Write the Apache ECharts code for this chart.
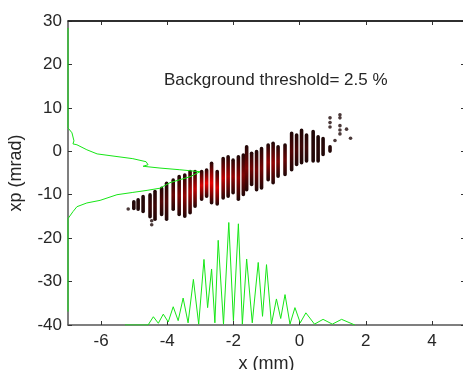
<!DOCTYPE html>
<html>
<head>
<meta charset="utf-8">
<script src="https://cdn.jsdelivr.net/npm/echarts@6/dist/echarts.min.js"></script>
<style>html,body{margin:0;padding:0;background:#fff}#c{width:463px;height:370px}</style>
</head>
<body>
<div id="c"></div>
<script>
// ---- data ----
const xRange = [-7, 5];
const yRange = [-40, 30];
const xTicks = [-6, -4, -2, 0, 2, 4];
const yTicks = [-40, -30, -20, -10, 0, 10, 20, 30];
const annotation = 'Background threshold= 2.5 %';

// scatter columns: x position, lowest y, highest y, red density (0..1)
const colX    = [-5.01, -4.88, -4.73, -4.52, -4.37, -4.17, -4.02, -3.82, -3.64, -3.47, -3.31, -3.16, -2.96, -2.81, -2.66, -2.49, -2.31, -2.16, -2.01, -1.85, -1.70, -1.60, -1.45, -1.30, -1.15, -0.95, -0.80, -0.65, -0.44, -0.24, -0.09, 0.06, 0.21, 0.41, 0.56, 0.71, 0.92];
const colYMin = [-13.2, -13.4, -13.9, -15.1, -15.7, -14.6, -15.7, -13.4, -14.6, -15.0, -14.2, -12.7, -11.1, -10.4, -11.9, -12.2, -10.8, -10.4, -9.6, -11.1, -10.0, -8.9, -7.7, -8.9, -8.5, -6.6, -7.3, -5.8, -5.4, -4.3, -3.1, -2.7, -2.3, -2.3, -2.3, -0.8, 0.0];
const colYMax = [-11.6, -11.1, -10.4, -10.0, -9.2, -8.5, -7.3, -6.6, -5.8, -5.4, -4.6, -4.6, -4.6, -4.3, -2.7, -4.6, -1.6, -1.2, -2.0, -1.2, -0.8, 1.1, -0.4, 0.0, 0.7, 1.5, 1.9, 1.1, 1.5, 4.2, 3.8, 4.9, 3.8, 4.6, 3.4, 3.0, 1.1];
const colRed  = [0, 0, 0, 0.1, 0.1, 0.2, 0.2, 0.3, 0.4, 0.5, 0.6, 0.7, 0.8, 0.9, 0.9, 0.8, 0.7, 0.6, 0.5, 0.5, 0.4, 0.4, 0.35, 0.35, 0.35, 0.5, 0.5, 0.4, 0.3, 0.2, 0.15, 0.1, 0.1, 0, 0, 0, 0];

// isolated dots
const dotX = [-5.18, -4.47, -4.47, 0.92, 0.92, 0.92, 1.22, 1.22, 1.22, 1.22, 1.22, 1.42, 1.07, 1.54];
const dotY = [-13.3, -16.0, -16.9, 7.7, 6.6, 5.6, 8.4, 7.7, 5.9, 4.9, 4.0, 5.1, 2.5, 3.0];

// projection on xp (left profile)
const vProfX = [-7, -7, -6.88, -6.82, -6.85, -6.73, -6.43, -6.12, -5.73, -5.04, -4.64, -4.58, -4.73, -4.22, -3.62, -3.31, -3.01, -3.01, -3.31, -3.62, -3.92, -4.22, -4.61, -5.04, -5.52, -6.03, -6.43, -6.73, -6.85, -7, -7];
const vProfY = [28.4, 5.4, 4.25, 2.4, 1.7, 1.5, 0.35, -0.6, -1.0, -1.7, -2.4, -3.1, -3.45, -3.86, -4.25, -4.48, -4.71, -5.17, -5.86, -6.55, -7.24, -8.5, -9.0, -9.47, -10.0, -11.3, -11.9, -12.76, -13.9, -15.5, -36.9];

// projection on x (bottom profile)
const hProfX = [-5.28, -4.58, -4.42, -4.27, -4.12, -3.97, -3.82, -3.67, -3.52, -3.37, -3.21, -3.05, -2.89, -2.78, -2.66, -2.56, -2.46, -2.30, -2.14, -2.00, -1.85, -1.73, -1.60, -1.43, -1.25, -1.12, -1.00, -0.85, -0.70, -0.57, -0.44, -0.29, -0.14, 0.02, 0.19, 0.45, 0.71, 0.99, 1.27, 1.67];
const hProfY = [-40, -40, -38.1, -39.6, -37.5, -39.3, -35.8, -39.0, -33.8, -39.5, -29.5, -39.8, -24.9, -36.0, -27.1, -39.5, -20.5, -39.8, -16.4, -39.0, -16.7, -39.8, -24.8, -39.5, -25.6, -38.0, -26.1, -39.8, -34.0, -38.5, -33.0, -39.8, -36.0, -39.5, -37.2, -39.8, -38.7, -39.8, -38.7, -40];

// ---- build ----
const chart = echarts.init(document.getElementById('c'), null, {renderer: 'canvas'});
const colData = colX.map((x, i) => [x, colYMin[i], colYMax[i], colRed[i]]);
const dotData = dotX.map((x, i) => [x, dotY[i]]);
const vProf = vProfX.map((x, i) => [x, vProfY[i]]);
const hProf = hProfX.map((x, i) => [x, hProfY[i]]);
const green = '#16e616';
const axisCol = '#333';
const txt = '#262626';
const font = 'Liberation Sans, Arial, sans-serif';

function darkRed(r) {
  const R = Math.round(40 + 215 * r), G = Math.round(8 * (1 - r)), B = Math.round(8 * (1 - r));
  return 'rgb(' + R + ',' + G + ',' + B + ')';
}
const hiddenAxis = (g) => ({type: 'value', gridIndex: g, min: 0, max: 1, show: false});

const option = {
  backgroundColor: '#fff',
  animation: false,
  grid: [
    {left: 68, top: 21, width: 397, height: 304, containLabel: false, outerBoundsMode: 'none'},
    // strip above the plot: its bottom axis carries the top ticks
    {left: 68, top: 1, width: 397, height: 20, containLabel: false, outerBoundsMode: 'none'},
    // strip right of the plot: its left axis carries the right ticks
    {left: 465, top: 21, width: 10, height: 304, containLabel: false, outerBoundsMode: 'none'}
  ],
  xAxis: [{
    type: 'value', gridIndex: 0, min: xRange[0], max: xRange[1], position: 'bottom',
    name: 'x (mm)', nameLocation: 'middle', nameGap: 29,
    nameTextStyle: {fontSize: 18, color: txt, fontFamily: font},
    axisLine: {show: true, onZero: false, lineStyle: {color: '#555', width: 1.5}},
    axisTick: {show: true, inside: true, length: 4, customValues: xTicks, lineStyle: {color: axisCol}},
    axisLabel: {show: true, customValues: xTicks, fontSize: 17, color: txt, fontFamily: font, margin: 8},
    splitLine: {show: false}
  }, {
    type: 'value', gridIndex: 1, min: xRange[0], max: xRange[1], position: 'bottom',
    axisLine: {show: true, onZero: false, lineStyle: {color: '#222', width: 1.5}},
    axisTick: {show: true, inside: false, length: 4, customValues: xTicks, lineStyle: {color: axisCol}},
    axisLabel: {show: false, customValues: xTicks}, splitLine: {show: false}
  }, hiddenAxis(2)],
  yAxis: [{
    type: 'value', gridIndex: 0, min: yRange[0], max: yRange[1], interval: 10, position: 'left',
    name: 'xp (mrad)', nameLocation: 'middle', nameGap: 43, nameRotate: 90,
    nameTextStyle: {fontSize: 18, color: txt, fontFamily: font},
    axisLine: {show: true, onZero: false, lineStyle: {color: '#555', width: 1.5}},
    axisTick: {show: true, inside: true, length: 4, lineStyle: {color: axisCol}},
    axisLabel: {show: true, fontSize: 17, color: txt, fontFamily: font, margin: 6},
    splitLine: {show: false}
  }, hiddenAxis(1), {
    type: 'value', gridIndex: 2, min: yRange[0], max: yRange[1], interval: 10, position: 'left',
    axisLine: {show: true, onZero: false, lineStyle: {color: '#222', width: 1}},
    axisTick: {show: true, inside: false, length: 4, lineStyle: {color: axisCol}},
    axisLabel: {show: false}, splitLine: {show: false}
  }],
  series: [{
    type: 'custom', xAxisIndex: 0, yAxisIndex: 0, z: 2,
    data: colData,
    renderItem: function (params, api) {
      const x = api.value(0), y0 = api.value(1), y1 = api.value(2), r = api.value(3);
      const pTop = api.coord([x, y1]);
      const pBot = api.coord([x, y0]);
      const dark = '#1e0707';
      return {
        type: 'rect',
        shape: {x: pTop[0] - 1.8, y: pTop[1] - 1.6, width: 3.6, height: pBot[1] - pTop[1] + 3.2, r: 1.8},
        style: {
          fill: new echarts.graphic.LinearGradient(0, 0, 0, 1, [
            {offset: 0, color: dark},
            {offset: 0.5, color: darkRed(r)},
            {offset: 1, color: dark}
          ])
        }
      };
    }
  }, {
    type: 'scatter', xAxisIndex: 0, yAxisIndex: 0, z: 2,
    symbol: 'circle', symbolSize: 3.6,
    itemStyle: {color: '#1e0707'},
    data: dotData
  }, {
    type: 'line', xAxisIndex: 0, yAxisIndex: 0, z: 3,
    showSymbol: false, symbol: 'none',
    lineStyle: {color: green, width: 1},
    data: vProf
  }, {
    type: 'line', xAxisIndex: 0, yAxisIndex: 0, z: 3,
    showSymbol: false, symbol: 'none',
    lineStyle: {color: green, width: 1},
    data: hProf,
    // top frame of the plot box, at the y-axis maximum
    markLine: {
      silent: true, symbol: ['none', 'none'], animation: false,
      label: {show: false},
      lineStyle: {color: '#222', width: 1.5, type: 'solid'},
      data: [{yAxis: yRange[1]}]
    }
  }, {
    // invisible helper so the frame axes have an extent
    type: 'line', xAxisIndex: 1, yAxisIndex: 1, silent: true,
    showSymbol: false, symbol: 'none', lineStyle: {opacity: 0},
    data: [[xRange[0], 0], [xRange[1], 1]]
  }, {
    type: 'line', xAxisIndex: 2, yAxisIndex: 2, silent: true,
    showSymbol: false, symbol: 'none', lineStyle: {opacity: 0},
    data: [[0, yRange[0]], [1, yRange[1]]]
  }],
  graphic: [{
    type: 'text', left: 164, top: 72,
    style: {text: annotation, fontSize: 17, fill: txt, fontFamily: font}
  }]
};
chart.setOption(option);
</script>
</body>
</html>
